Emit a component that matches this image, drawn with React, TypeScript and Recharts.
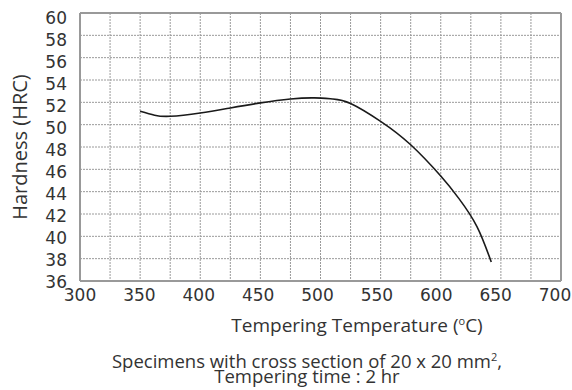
import { LineChart, Line, XAxis, YAxis, CartesianGrid, ReferenceLine } from "recharts";

const temps = [350, 362, 375, 400, 425, 450, 475, 495, 510, 525, 550, 575, 600, 615, 630, 642];
const hardness = [51.2, 50.85, 50.75, 51.05, 51.5, 51.95, 52.3, 52.4, 52.3, 51.9, 50.3, 48.2, 45.4, 43.4, 40.9, 37.7];
const xTicks = [300, 325, 350, 375, 400, 425, 450, 475, 500, 525, 550, 575, 600, 625, 650, 675, 700];
const yTicks = [36, 38, 40, 42, 44, 46, 48, 50, 52, 54, 56, 58, 60];

const data = temps.map((t, i) => ({ t, h: hardness[i] }));

const tickFont = { fontSize: 17, fill: "#333", fontFamily: "DejaVu Sans" };
const titleFont = "'Open Sans', sans-serif";

// labels in the original sit slightly off the grid lines
const XTick = (props: any) => {
  const v = props.payload.value;
  if (v % 50 !== 0) return null;
  const shift = -((v - 300) / 400) * 6;
  return (
    <text x={props.x + shift} y={props.y} dy="0.71em" textAnchor="middle" {...tickFont}>
      {v}
    </text>
  );
};

const YTick = (props: any) => {
  const v = props.payload.value;
  const shift = 1 + ((v - 36) / 24) * 3.7;
  return (
    <text x={props.x} y={props.y + shift} dy="0.355em" textAnchor="end" {...tickFont}>
      {v}
    </text>
  );
};

export default function App() {
  return (
    <div style={{ position: "absolute", left: 0, top: 0, width: 572, height: 390, background: "#fff", overflow: "hidden" }}>
      <LineChart width={572} height={390} data={data} margin={{ top: 13, right: 11, left: 0, bottom: 79 }}>
        <CartesianGrid stroke="#9a9a9a" strokeDasharray="2 1" />
        <XAxis
          dataKey="t"
          type="number"
          domain={[300, 700]}
          ticks={xTicks}
          interval={0}
          tick={<XTick />}
          tickLine={false}
          tickSize={0}
          tickMargin={8}
          height={30}
          axisLine={{ stroke: "#999", strokeWidth: 2 }}
        />
        <YAxis
          type="number"
          domain={[36, 60]}
          ticks={yTicks}
          interval={0}
          tick={<YTick />}
          tickLine={false}
          tickSize={0}
          tickMargin={13}
          width={80}
          axisLine={{ stroke: "#999", strokeWidth: 2 }}
        />
        <ReferenceLine y={60} stroke="#999" strokeWidth={2} />
        <ReferenceLine x={700} stroke="#999" strokeWidth={2} />
        <Line
          type="natural"
          dataKey="h"
          stroke="#1a1a1a"
          strokeWidth={1.6}
          dot={false}
          isAnimationActive={false}
        />
      </LineChart>
      <div
        style={{
          position: "absolute",
          left: 20,
          top: 147,
          transform: "translate(-50%, -50%) rotate(-90deg)",
          whiteSpace: "nowrap",
          fontFamily: titleFont,
          fontSize: 20,
          lineHeight: "22px",
          color: "#333",
        }}
      >
        Hardness (HRC)
      </div>
      <div
        style={{
          position: "absolute",
          left: 157,
          width: 400,
          top: 315,
          textAlign: "center",
          fontFamily: titleFont,
          fontSize: 19,
          lineHeight: "20px",
          color: "#333",
        }}
      >
        Tempering Temperature (<sup style={{ fontSize: 11, lineHeight: 0 }}>o</sup>C)
      </div>
      <div
        style={{
          position: "absolute",
          left: 0,
          width: 614,
          top: 353,
          height: 30,
          textAlign: "center",
          fontFamily: titleFont,
          fontSize: 18.5,
          lineHeight: "15px",
          color: "#333",
        }}
      >
        <div style={{ height: 15 }}>
          Specimens with cross section of 20 x 20 mm
          <span style={{ fontSize: 11, lineHeight: 0, verticalAlign: 7 }}>2</span>,
        </div>
        <div style={{ height: 15 }}>Tempering time : 2 hr</div>
      </div>
    </div>
  );
}
